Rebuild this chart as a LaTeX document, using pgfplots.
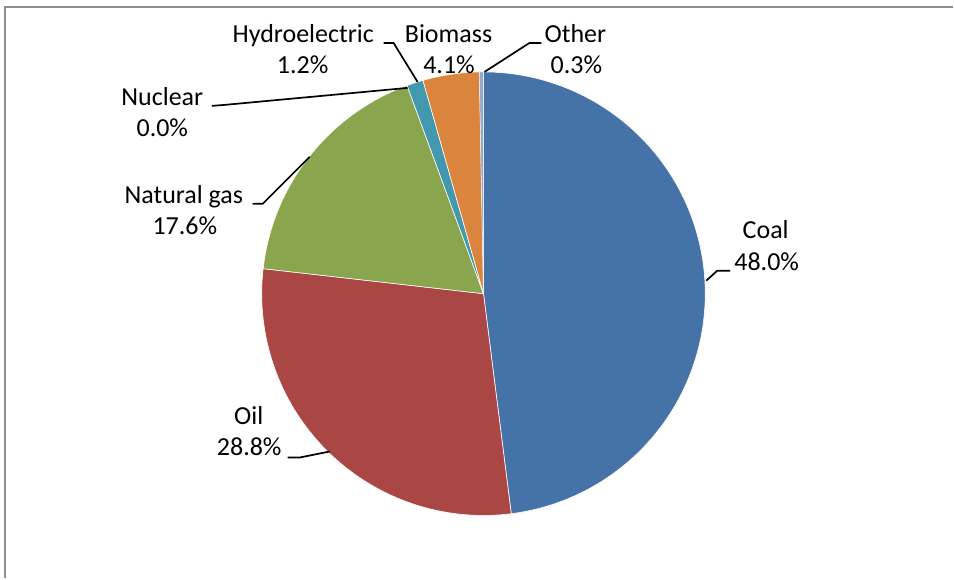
\documentclass[border=0pt]{standalone}
\usepackage{pgfplots}
\pgfplotsset{compat=1.18}
\usepackage{fontspec}
\setmainfont{Carlito}
\definecolor{coal}{HTML}{4572A7}
\definecolor{oil}{HTML}{AA4643}
\definecolor{gas}{HTML}{89A54E}
\definecolor{nuclear}{HTML}{71588F}
\definecolor{hydro}{HTML}{4198AF}
\definecolor{biomass}{HTML}{DB843D}
\definecolor{other}{HTML}{93A9CF}
\definecolor{frame}{HTML}{8E8E8E}
% shares (percent)
\def\pCoal{48.0}\def\pOil{28.8}\def\pGas{17.6}\def\pNuclear{0.0}
\def\pHydro{1.2}\def\pBiomass{4.1}\def\pOther{0.3}
% cumulative angles (start at 12 o'clock, clockwise)
\pgfmathsetmacro\aA{90}
\pgfmathsetmacro\aB{\aA-3.6*\pCoal}
\pgfmathsetmacro\aC{\aB-3.6*\pOil}
\pgfmathsetmacro\aD{\aC-3.6*\pGas}
\pgfmathsetmacro\aE{\aD-3.6*\pNuclear}
\pgfmathsetmacro\aF{\aE-3.6*\pHydro}
\pgfmathsetmacro\aG{\aF-3.6*\pBiomass}
\pgfmathsetmacro\aH{\aG-3.6*\pOther}
\def\cx{484}\def\cy{285}\def\R{222}
\begin{document}
\fontsize{26bp}{31bp}\selectfont
\begin{tikzpicture}
\begin{axis}[
  x=1bp, y=1bp, xmin=0, xmax=954, ymin=0, ymax=579,
  hide axis, clip=false,
  every node/.append style={font=\fontsize{26bp}{31bp}\selectfont, inner sep=0pt},
]
\addplot[draw=none] coordinates {(0,0) (954,579)};
% frame
\addplot[frame, line width=2bp] coordinates {(5.5,0) (5.5,572) (954,572)};
% slices
\addplot[fill=coal, draw=white, line width=0.6bp, domain=\aB:\aA, samples=120, variable=\t]
  ({\cx+\R*cos(t)},{\cy+\R*sin(t)}) -- (axis cs:\cx,\cy) -- cycle;
\addplot[fill=oil, draw=white, line width=0.6bp, domain=\aC:\aB, samples=80, variable=\t]
  ({\cx+\R*cos(t)},{\cy+\R*sin(t)}) -- (axis cs:\cx,\cy) -- cycle;
\addplot[fill=gas, draw=white, line width=0.6bp, domain=\aD:\aC, samples=60, variable=\t]
  ({\cx+\R*cos(t)},{\cy+\R*sin(t)}) -- (axis cs:\cx,\cy) -- cycle;
\addplot[fill=hydro, draw=white, line width=0.6bp, domain=\aF:\aE, samples=10, variable=\t]
  ({\cx+\R*cos(t)},{\cy+\R*sin(t)}) -- (axis cs:\cx,\cy) -- cycle;
\addplot[fill=biomass, draw=white, line width=0.6bp, domain=\aG:\aF, samples=20, variable=\t]
  ({\cx+\R*cos(t)},{\cy+\R*sin(t)}) -- (axis cs:\cx,\cy) -- cycle;
\addplot[fill=other, draw=white, line width=0.3bp, domain=\aH:\aG, samples=5, variable=\t]
  ({\cx+\R*cos(t)},{\cy+\R*sin(t)}) -- (axis cs:\cx,\cy) -- cycle;
% leader lines
\addplot[black, line width=1.7bp] coordinates {(707,298) (718,308) (731,308)};
\addplot[black, line width=1.7bp] coordinates {(288,121) (300,121) (330,127)};
\addplot[black, line width=1.7bp] coordinates {(253,375) (263,375) (310,422)};
\addplot[black, line width=1.7bp] coordinates {(212,473) (225,474) (408,491)};
\addplot[black, line width=1.7bp] coordinates {(384,536) (394,536) (418,497)};
\addplot[black, line width=1.7bp] coordinates {(542,536) (530,536) (485,507)};
% labels
\node[anchor=base] at (axis cs:766.5,340) {Coal};
\node[anchor=base] at (axis cs:767.5,308) {48.0\%};
\node[anchor=base] at (axis cs:249,154) {Oil};
\node[anchor=base] at (axis cs:249.5,123) {28.8\%};
\node[anchor=base] at (axis cs:184,375) {Natural gas};
\node[anchor=base] at (axis cs:185,344) {17.6\%};
\node[anchor=base] at (axis cs:162.5,473) {Nuclear};
\node[anchor=base] at (axis cs:162.5,442) {0.0\%};
\node[anchor=base] at (axis cs:303.5,536) {Hydroelectric};
\node[anchor=base] at (axis cs:303,505) {1.2\%};
\node[anchor=base] at (axis cs:449,536) {Biomass};
\node[anchor=base] at (axis cs:449.5,505) {4.1\%};
\node[anchor=base] at (axis cs:576,536) {Other};
\node[anchor=base] at (axis cs:577,505) {0.3\%};
\end{axis}
\end{tikzpicture}
\end{document}
